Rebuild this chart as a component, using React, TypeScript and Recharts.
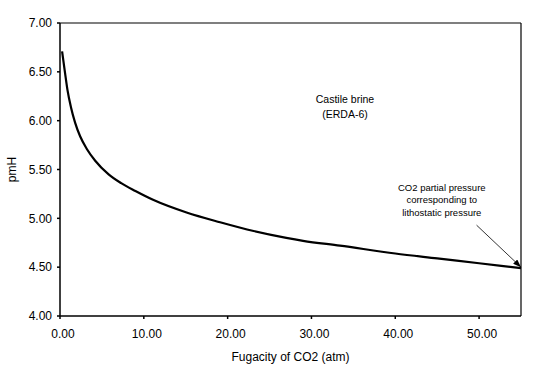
import React from "react";
import {
  LineChart,
  Line,
  XAxis,
  YAxis,
  ReferenceLine,
  ReferenceDot,
} from "recharts";

// Fugacity of CO2 (atm) vs pmH
const fugacity = [0.25, 0.6, 0.9, 1.3, 1.8, 2.4, 3.2, 4.2, 5.8, 7.3, 9.0, 11.1, 15.1, 19.1, 23.1, 27, 29, 33.4, 40, 45, 50, 55];
const pmH = [6.71, 6.49, 6.31, 6.14, 5.98, 5.84, 5.71, 5.59, 5.45, 5.36, 5.28, 5.19, 5.06, 4.96, 4.87, 4.8, 4.77, 4.72, 4.64, 4.59, 4.54, 4.49];

const xTicks = [0, 10, 20, 30, 40, 50];
const yTicks = [4, 4.5, 5, 5.5, 6, 6.5, 7];

const brineLabel = ["Castile brine", "(ERDA-6)"];
const brineLabelY = [6.22, 6.07];
const noteLabel = ["CO2 partial pressure", "corresponding to", "lithostatic pressure"];
const noteLabelY = [5.32, 5.19, 5.06];

const data = fugacity.map((f, i) => ({ f, ph: pmH[i] }));

const FONT = "'Liberation Sans', Arial, sans-serif";

const textShape = (text: string, size: number) => (p: any) => (
  <text
    x={p.cx}
    y={p.cy}
    textAnchor="middle"
    dominantBaseline="central"
    fontFamily={FONT}
    fontSize={size}
    fill="#000"
  >
    {text}
  </text>
);

const arrowShape = (p: any) => (
  <g>
    <defs>
      <marker id="arrowhead" markerWidth="8" markerHeight="6" refX="8" refY="3" orient="auto" markerUnits="userSpaceOnUse">
        <path d="M0,0 L8,3 L0,6 Z" fill="#000" />
      </marker>
    </defs>
    <line x1={p.x1} y1={p.y1} x2={p.x2} y2={p.y2} stroke="#000" strokeWidth={0.8} markerEnd="url(#arrowhead)" />
  </g>
);

export default function App() {
  return (
    <div style={{ position: "absolute", left: 0, top: 0, background: "#fff" }}>
      <LineChart width={536} height={365} data={data} margin={{ top: 23, right: 15, bottom: 0, left: 0 }}>
        <XAxis
          dataKey="f"
          type="number"
          domain={[0, 55]}
          ticks={xTicks}
          tickFormatter={(v: number) => v.toFixed(2)}
          height={49}
          tickSize={3}
          tickMargin={10}
          stroke="#000"
          strokeWidth={1.5}
          tick={{ fill: "#000", fontSize: 12, fontFamily: FONT, dx: 3 }}
          label={{ value: "Fugacity of CO2 (atm)", position: "insideBottom", offset: 4, fill: "#000", fontSize: 12, fontFamily: FONT }}
        />
        <YAxis
          type="number"
          domain={[4, 7]}
          ticks={yTicks}
          tickFormatter={(v: number) => v.toFixed(2)}
          width={60}
          tickSize={3}
          tickMargin={5}
          stroke="#000"
          strokeWidth={1.5}
          tick={{ fill: "#000", fontSize: 12, fontFamily: FONT }}
          label={{ value: "pmH", angle: -90, position: "insideLeft", offset: 12, fill: "#000", fontSize: 12, fontFamily: FONT, style: { textAnchor: "middle" } }}
        />
        <ReferenceLine y={7} stroke="#000" strokeWidth={1.2} />
        <ReferenceLine x={55} stroke="#000" strokeWidth={1.2} />
        <Line
          type="monotone"
          dataKey="ph"
          stroke="#000"
          strokeWidth={2.2}
          dot={false}
          isAnimationActive={false}
        />
        {brineLabel.map((t, i) => (
          <ReferenceDot key={t} x={34} y={brineLabelY[i]} r={0} shape={textShape(t, 10.5)} />
        ))}
        {noteLabel.map((t, i) => (
          <ReferenceDot key={t} x={45.55} y={noteLabelY[i]} r={0} shape={textShape(t, 9.5)} />
        ))}
        <ReferenceLine
          segment={[{ x: 49.7, y: 4.93 }, { x: 55, y: 4.5 }]}
          shape={arrowShape}
        />
      </LineChart>
    </div>
  );
}
